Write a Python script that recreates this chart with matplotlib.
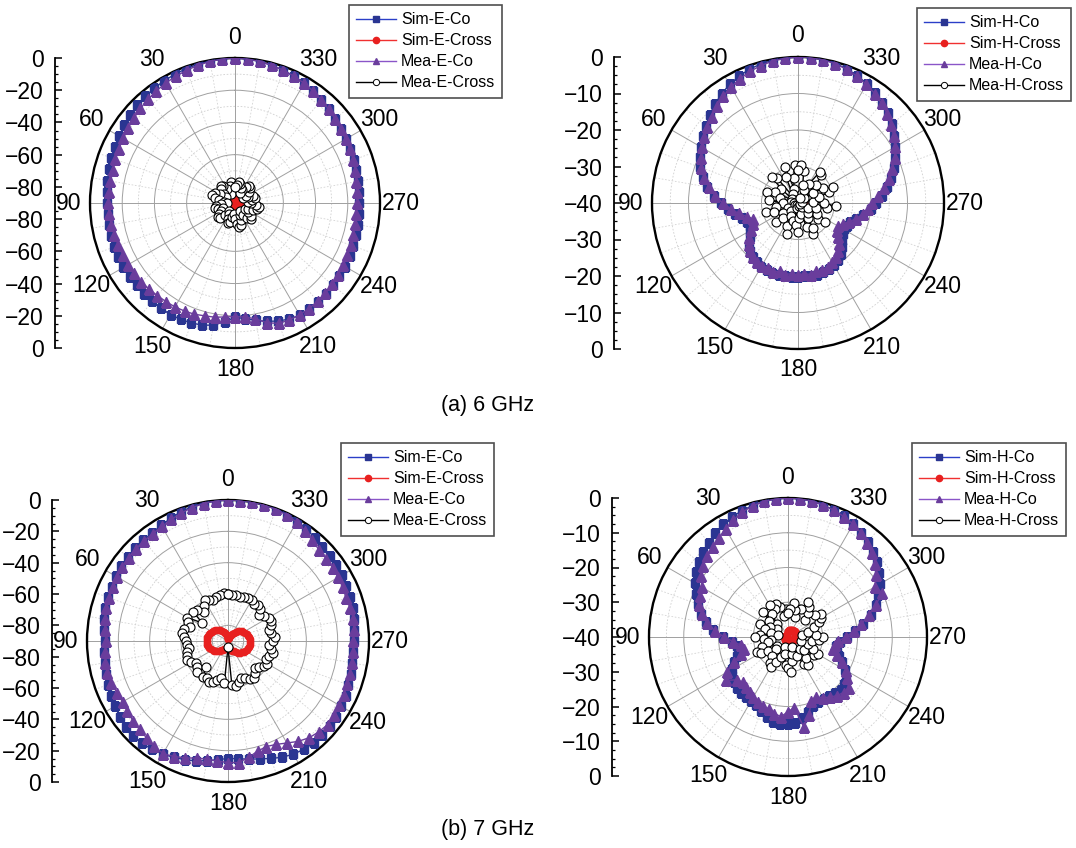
import numpy as np
import matplotlib.pyplot as plt
from matplotlib.lines import Line2D

plt.rcParams['font.family'] = ['Liberation Sans', 'DejaVu Sans']

W, H = 1076, 848
ang = np.arange(0, 360, 5)

# ---- (a) 6 GHz, E plane ----
sim_e6 = [0, -0.2, -0.5, -0.9, -1.3, -1.8, -2.3, -2.8, -3.5, -4.3, -5.2, -6.0,
          -6.8, -7.5, -8.3, -9.0, -9.6, -10.2, -10.6, -10.7, -10.6, -10.4, -10.2, -10.0,
          -10.0, -10.2, -10.5, -10.5, -10.3, -10.1, -10.0, -10.3, -10.8, -11.5, -13, -16,
          -19, -18, -16, -14, -12, -10.5, -9.5, -9.5, -10, -10.5, -11, -11,
          -11, -11.5, -12, -12.3, -12.6, -12.8, -12.8, -12.5, -12.2, -12, -11.6, -11.2,
          -10.8, -10, -9, -7.8, -6.5, -5.2, -4.2, -3.3, -2.4, -1.6, -0.9, -0.3]
mea_e6 = [0, -0.3, -0.8, -1.5, -2.3, -3.2, -4.0, -5, -6, -7, -8, -9,
          -9.8, -10.5, -11, -11.3, -11.5, -11.5, -11.3, -11.5, -12, -12.5, -13, -13.3,
          -13.5, -13.8, -14, -14.5, -15, -15.3, -15.5, -16, -16.5, -17.5, -18, -19,
          -19.5, -19, -17, -13, -10.5, -10, -9.8, -10, -10.3, -10.8, -11.5, -12,
          -12.5, -13, -13.5, -14, -14.3, -14.5, -14.4, -14, -13.5, -12.8, -12, -11.3,
          -10.8, -10, -9, -7.8, -6.5, -5.3, -4.2, -3.2, -2.3, -1.5, -0.8, -0.3]
simx_e6 = [-84.5, -84.8, -85.3, -86.0, -86.8, -87.5, -88.0, -88.2, -88.0, -87.6, -87.0, -86.5,
           -86.2, -86.0, -86.2, -86.6, -87.2, -87.8, -88.3, -88.5, -88.2, -87.6, -86.8, -86.0,
           -85.4, -85.0, -84.8, -85.0, -85.5, -86.2, -87.0, -87.8, -88.4, -88.6, -88.3, -87.8,
           -87.2, -86.6, -86.0, -85.5, -85.2, -85.0, -85.2, -85.6, -86.2, -86.9, -87.6, -88.2,
           -88.5, -88.4, -88.0, -87.4, -86.7, -86.0, -85.3, -84.8, -84.4, -84.2, -84.3, -84.6,
           -85.1, -85.8, -86.5, -87.2, -87.6, -87.5, -87.0, -86.3, -85.6, -85.0, -84.6, -84.4]
meax_e6 = [-80, -78, -77, -79, -82, -84, -80, -77, -76, -78, -81, -83,
           -79, -76, -75, -77, -80, -83, -85, -81, -78, -77, -79, -82,
           -80, -78, -76, -77, -80, -84, -82, -79, -77, -78, -81, -83,
           -80, -77, -75, -76, -79, -82, -84, -81, -78, -76, -77, -80,
           -83, -81, -78, -76, -75, -77, -80, -82, -79, -77, -78, -81,
           -84, -82, -79, -77, -76, -78, -81, -83, -80, -78, -77, -79]

# ---- (a) 6 GHz, H plane ----
sim_h6 = [0, -0.1, -0.3, -0.6, -1.0, -1.7, -2.5, -3.5, -4.6, -5.8, -7.0, -8.2,
          -9.2, -10.3, -11.5, -13, -14.8, -16.8, -19, -20.8, -22.5, -24, -25, -25.4,
          -24.8, -23.8, -22.6, -21.5, -20.8, -20.2, -19.8, -19.6, -19.5, -19.5, -19.6, -19.7,
          -19.8, -19.8, -19.7, -19.7, -19.8, -20, -20.4, -21, -21.8, -23, -24.2, -25,
          -25.5, -25.3, -24.8, -23.5, -21.8, -20, -18.5, -16.8, -15.2, -13.6, -12, -10.6,
          -9.2, -7.8, -6.5, -5.2, -4.2, -3.2, -2.3, -1.5, -0.9, -0.4, -0.1, 0]
mea_h6 = [0, -0.2, -0.5, -1.0, -1.6, -2.4, -3.3, -4.3, -5.4, -6.5, -7.6, -8.6,
          -9.5, -10.6, -11.8, -13.3, -15.2, -17.2, -19.4, -21.5, -23.5, -25.5, -27, -26.5,
          -25, -23.5, -22.3, -21.4, -20.8, -20.4, -20.2, -20.5, -20, -20.6, -20.1, -20.6,
          -20.2, -20.6, -20.1, -20.6, -20.4, -20.7, -21.2, -22, -23, -24.3, -25.6, -26.8,
          -27.4, -26.5, -25, -23.5, -22, -20.8, -19.8, -18, -16.2, -14.3, -12.5, -10.8,
          -9.4, -8, -6.7, -5.4, -4.4, -3.4, -2.5, -1.7, -1.0, -0.5, -0.2, 0]
simx_h6 = [-38.6, -38.8, -39.0, -39.2, -39.4, -39.5, -39.5, -39.4, -39.2, -39.0, -38.8, -38.6,
           -38.5, -38.4, -38.5, -38.7, -38.9, -39.1, -39.3, -39.4, -39.5, -39.4, -39.2, -38.9,
           -38.6, -38.3, -38.1, -38.0, -38.0, -38.1, -38.3, -38.5, -38.8, -39.0, -39.2, -39.3,
           -39.2, -39.0, -38.7, -38.4, -38.2, -38.0, -37.9, -37.9, -38.0, -38.2, -38.5, -38.8,
           -39.0, -39.2, -39.3, -39.2, -39.0, -38.8, -38.6, -38.4, -38.3, -38.3, -38.4, -38.5,
           -38.7, -38.9, -39.1, -39.2, -39.2, -39.1, -39.0, -38.9, -38.8, -38.7, -38.6, -38.6]
meax_h6 = [-31, -29.5, -33, -36, -29.5, -32, -37, -39, -31, -30, -34, -38,
           -39.3, -33, -31, -35, -38, -32, -36, -39, -34, -31, -33, -37,
           -39, -35, -32, -34, -37, -39.3, -36, -33, -31, -35, -38.5, -34,
           -32, -36, -39.2, -37, -33, -30.5, -32, -35, -38.5, -36, -33, -31,
           -34, -37, -39.3, -35, -32, -29.5, -33, -36, -39, -34, -31, -29.5,
           -32, -35, -38, -33, -30, -29.5, -34, -36, -38.5, -35, -31, -29.5]

# ---- (b) 7 GHz, E plane ----
sim_e7 = [0, -0.2, -0.6, -1.2, -2.2, -3.5, -4.8, -5.6, -6.0, -6.2, -6.5, -6.9,
          -7.6, -8.3, -8.7, -9.0, -9.6, -10.6, -11.3, -10.8, -10.0, -9.2, -8.2, -7.3,
          -6.6, -5.8, -5.0, -4.5, -4.8, -5.6, -6.6, -8.0, -9.4, -10.8, -12.4, -14,
          -15, -14.6, -13.4, -12.1, -10.2, -8.1, -6.6, -5.6, -5.0, -4.9, -5.2, -5.8,
          -6.4, -7.2, -8.2, -9.0, -9.6, -9.9, -9.8, -9.2, -8.4, -7.6, -7.0, -6.6,
          -6.2, -5.8, -5.3, -4.9, -3.9, -2.7, -1.6, -0.9, -0.4, -0.1, 0, 0]
mea_e7 = [0, -0.3, -0.9, -1.8, -3.0, -4.4, -5.6, -6.3, -6.6, -6.8, -7.2, -7.6,
          -8.2, -8.8, -9.3, -9.6, -10.2, -11.2, -12.0, -11.4, -10.6, -10.2, -10.8, -11.8,
          -12.3, -11.6, -10.8, -10.2, -9.2, -8.0, -7.0, -8.6, -10.6, -12.6, -13.4, -13.0,
          -12.4, -12.1, -14.5, -17.2, -18.3, -17.2, -14.8, -11.8, -9.4, -8.0, -7.0, -7.2,
          -8.0, -8.6, -9.2, -9.6, -9.9, -10.1, -10.0, -9.4, -8.8, -9.2, -9.8, -9.1,
          -8.9, -8.4, -8.1, -7.8, -6.2, -4.2, -2.4, -1.3, -0.6, -0.2, 0, 0]
simx_e7 = [-88.7, -88.0, -86.8, -85.5, -84.5, -83.4, -82.3, -81.4, -80.6, -79.8, -79.1, -78.5,
           -77.9, -77.4, -77.0, -76.7, -76.5, -76.3, -76.3, -76.4, -76.6, -76.9, -77.3, -77.9,
           -78.6, -79.3, -80.1, -80.9, -81.8, -82.7, -83.5, -84.3, -84.9, -85.4, -85.8, -86.1,
           -86.2, -86.0, -85.6, -85.0, -84.2, -83.3, -82.3, -81.3, -80.3, -79.4, -78.6, -77.9,
           -77.3, -76.8, -76.4, -76.1, -75.9, -75.8, -75.9, -76.1, -76.4, -76.8, -77.3, -77.9,
           -78.6, -79.4, -80.3, -81.3, -82.3, -83.4, -84.5, -85.6, -86.6, -87.4, -88.1, -88.6]
meax_e7 = [-60, -59.5, -60.5, -61, -62, -61, -60, -63, -66, -62, -61, -70,
           -60, -62, -64, -61, -60, -62, -63, -64, -65, -63, -62, -61,
           -63, -65, -64, -62, -68, -62, -63, -61, -62, -64, -66, -63,
           -86, -62, -61, -63, -65, -64, -62, -61, -63, -66, -64, -62,
           -61, -63, -62, -60, -62, -64, -61, -60, -62, -63, -61, -59.5,
           -60, -62, -64, -61, -60, -61, -60, -59.5, -60, -61, -60, -60.5]

# ---- (b) 7 GHz, H plane ----
sim_h7 = [0, -0.1, -0.4, -0.8, -1.3, -1.9, -2.6, -3.6, -4.7, -5.5, -6.4, -7.6,
          -9.2, -10.8, -12.4, -14.2, -15.9, -18.4, -21.3, -23.8, -25.2, -25.6, -24.4, -22.8,
          -21.5, -20.4, -19.7, -19.2, -18.9, -18.8, -18.7, -18.4, -17.4, -16.2, -15.3, -15.0,
          -14.9, -15.3, -16.4, -17.8, -19.0, -19.4, -19.5, -19.2, -18.8, -18.6, -19.0, -19.8,
          -21.1, -22.8, -24.4, -25.5, -25.9, -25.0, -23.0, -20.6, -18.0, -15.3, -13.2, -11.3,
          -9.5, -8.0, -6.6, -5.6, -4.4, -3.3, -2.4, -1.7, -1.2, -0.7, -0.3, -0.1]
mea_h7 = [0, -0.1, -0.4, -0.9, -1.7, -2.8, -4.2, -5.3, -6.2, -7.0, -8.0, -9.6,
          -11.4, -12.0, -12.8, -14.4, -16.2, -18.8, -21.6, -24.2, -26.3, -26.9, -25.6, -22.8,
          -19.8, -18.3, -20.8, -21.6, -21.2, -20.8, -20.0, -19.3, -18.8, -18.6, -17.6, -17.0,
          -18.5, -19.6, -13.6, -16.8, -20.4, -21.1, -19.8, -18.9, -18.0, -17.4, -17.2, -19.4,
          -20.6, -22.8, -25.0, -26.5, -26.4, -25.6, -23.4, -21.0, -18.6, -16.0, -13.2, -10.0,
          -11.2, -9.0, -7.2, -5.9, -4.6, -3.4, -2.5, -1.8, -1.2, -0.7, -0.3, -0.1]
simx_h7 = [-38.2, -38.6, -39.0, -39.3, -39.5, -39.6, -39.7, -39.7, -39.6, -39.5, -39.4, -39.3,
           -39.3, -39.2, -39.2, -39.2, -39.3, -39.3, -39.4, -39.4, -39.5, -39.5, -39.4, -39.3,
           -39.2, -39.1, -39.0, -38.9, -38.8, -38.8, -38.8, -38.9, -39.0, -39.1, -39.2, -39.2,
           -39.1, -39.0, -38.9, -38.8, -38.7, -38.6, -38.5, -38.5, -38.4, -38.4, -38.3, -38.3,
           -38.2, -38.2, -38.1, -38.1, -38.0, -38.0, -37.9, -37.9, -37.8, -37.7, -37.6, -37.6,
           -37.5, -37.5, -37.5, -37.5, -37.6, -37.6, -37.7, -37.8, -37.8, -37.9, -38.0, -38.1]
meax_h7 = [-33, -32, -34, -31, -30, -31, -29.5, -32, -35, -30, -33, -36,
           -34, -31, -33, -35, -37, -32, -30.5, -33, -35, -34, -32, -30,
           -31, -33, -36, -35, -33, -31, -30, -32, -34, -37, -35, -32,
           -31, -30, -33, -35, -37, -34, -31, -30, -32, -35, -34, -31,
           -30, -32, -34, -36, -33, -31, -30, -32, -36, -34, -32, -30,
           -29, -28.5, -30, -33, -31, -29.5, -28.5, -31, -34, -32, -30, -32]

angle_labels = ['0', '30', '60', '90', '120', '150', '180', '210', '240', '270', '300', '330']
captions = ['(a) 6 GHz', '(b) 7 GHz']

c_sim = '#2a3592'
c_mea = '#6a3d9c'
c_red = '#e8201f'
minus = '\u2212'

fig = plt.figure(figsize=(W / 100, H / 100), dpi=100)


def closed(v):
    return np.deg2rad(np.append(ang, 360)), np.append(v, v[0])


def panel(cx, cy, R, sx, rmin, major, minor, leg_xy, plane,
          sim_co, mea_co, sim_x, mea_x):
    ax = fig.add_axes([(cx - R) / W, 1 - (cy + R) / H, 2 * R / W, 2 * R / H],
                      projection='polar')
    ax.set_theta_zero_location('N')
    ax.set_theta_direction(1)
    ax.set_rlim(rmin, 0)
    ax.set_thetagrids(np.arange(0, 360, 30), [''] * 12)
    rings = np.arange(0, rmin, -major)[1:]
    ax.set_rgrids(rings, [''] * len(rings))
    ax.grid(True, color='#a0a0a0', lw=0.7, ls='-')
    ax.spines['polar'].set_linewidth(1.7)
    full = np.linspace(0, 2 * np.pi, 361)
    for r in np.arange(-minor, rmin, -major):
        ax.plot(full, np.full_like(full, r), color='#d0d0d0', lw=0.6, ls=(0, (2, 2)), zorder=1)
    for a in range(0, 360, 10):
        if a % 30:
            ax.plot([np.deg2rad(a)] * 2, [rmin, 0], color='#d4d4d4', lw=0.6,
                    ls=(0, (2, 2)), zorder=1)

    t, v = closed(sim_x)
    ax.plot(t, v, color=c_red, lw=2.6, marker='o', ms=4.5, mec=c_red, zorder=3)
    t, v = closed(mea_x)
    ax.plot(t, v, color='black', lw=1.0, marker='o', ms=6.5, mfc='white',
            mec='black', mew=0.8, zorder=4)
    t, v = closed(sim_co)
    ax.plot(t, v, color=c_sim, lw=1.0, marker='s', ms=5.5, zorder=5)
    t, v = closed(mea_co)
    ax.plot(t, v, color=c_mea, lw=1.0, marker='^', ms=6.5, zorder=6)

    pad = 21 / (2 * R)
    for k, lab in enumerate(angle_labels):
        th = np.deg2rad(30 * k)
        ax.text(0.5 - np.sin(th) * (0.5 + pad), 0.5 + np.cos(th) * (0.5 + pad), lab,
                transform=ax.transAxes, ha='center', va='center', fontsize=16.5)

    # left radial scale
    al = fig.add_axes([sx / W, 1 - (cy + R) / H, 0.0005, 2 * R / H])
    al.set_ylim(-1, 1)
    al.set_xticks([])
    for s in ['top', 'right', 'bottom']:
        al.spines[s].set_visible(False)
    al.spines['left'].set_linewidth(1.3)
    vals = np.arange(0, rmin - 0.01, -major)
    pos, labs = [], []
    for d in vals:
        y = (d - rmin) / (0 - rmin)
        lab = '0' if d == 0 else minus + '%d' % abs(d)
        pos.append(y)
        labs.append(lab)
        if y > 1e-6:
            pos.append(-y)
            labs.append(lab)
    al.set_yticks(pos, labs, fontsize=16.5)
    mn = np.arange(0, rmin, -major / 4)
    mpos = [(d - rmin) / -rmin for d in mn]
    al.set_yticks(mpos + [-p for p in mpos], minor=True)
    al.tick_params(axis='y', which='major', direction='in', length=5, width=1.1, pad=8)
    al.tick_params(axis='y', which='minor', direction='in', length=2.5, width=0.9)

    handles = [
        Line2D([], [], color='#2b3fc8', lw=1.0, marker='s', ms=4, mfc=c_sim, mec=c_sim),
        Line2D([], [], color='#f03030', lw=1.0, marker='o', ms=4.5, mfc=c_red, mec=c_red),
        Line2D([], [], color='#8a55c8', lw=1.0, marker='^', ms=5, mfc=c_mea, mec=c_mea),
        Line2D([], [], color='black', lw=1.0, marker='o', ms=4.5, mfc='white', mec='black', mew=0.7),
    ]
    names = ['Sim-%s-Co' % plane, 'Sim-%s-Cross' % plane,
             'Mea-%s-Co' % plane, 'Mea-%s-Cross' % plane]
    leg = ax.legend(handles, names, loc='upper left',
                    bbox_to_anchor=(leg_xy[0] / W, 1 - leg_xy[1] / H),
                    bbox_transform=fig.transFigure, borderaxespad=0, fontsize=11.5,
                    frameon=True, fancybox=False, edgecolor='#222222',
                    handlelength=2.5, labelspacing=0.38, borderpad=0.45,
                    handletextpad=0.3)
    leg.get_frame().set_linewidth(1.2)
    return ax


panel(235, 203, 145, 55, -90, 20, 10, (349, 5), 'E', sim_e6, mea_e6, simx_e6, meax_e6)
panel(798, 203, 146, 614, -40, 10, 5, (917, 8), 'H', sim_h6, mea_h6, simx_h6, meax_h6)
panel(228, 641, 141, 52, -90, 20, 10, (341, 443), 'E', sim_e7, mea_e7, simx_e7, meax_e7)
panel(788, 637, 139, 612, -40, 10, 5, (912, 443), 'H', sim_h7, mea_h7, simx_h7, meax_h7)

fig.text(488 / W, 1 - 405 / H, captions[0], ha='center', va='center', fontsize=15.5)
fig.text(488 / W, 1 - 830 / H, captions[1], ha='center', va='center', fontsize=15.5)

fig.savefig('out.png', dpi=100)
